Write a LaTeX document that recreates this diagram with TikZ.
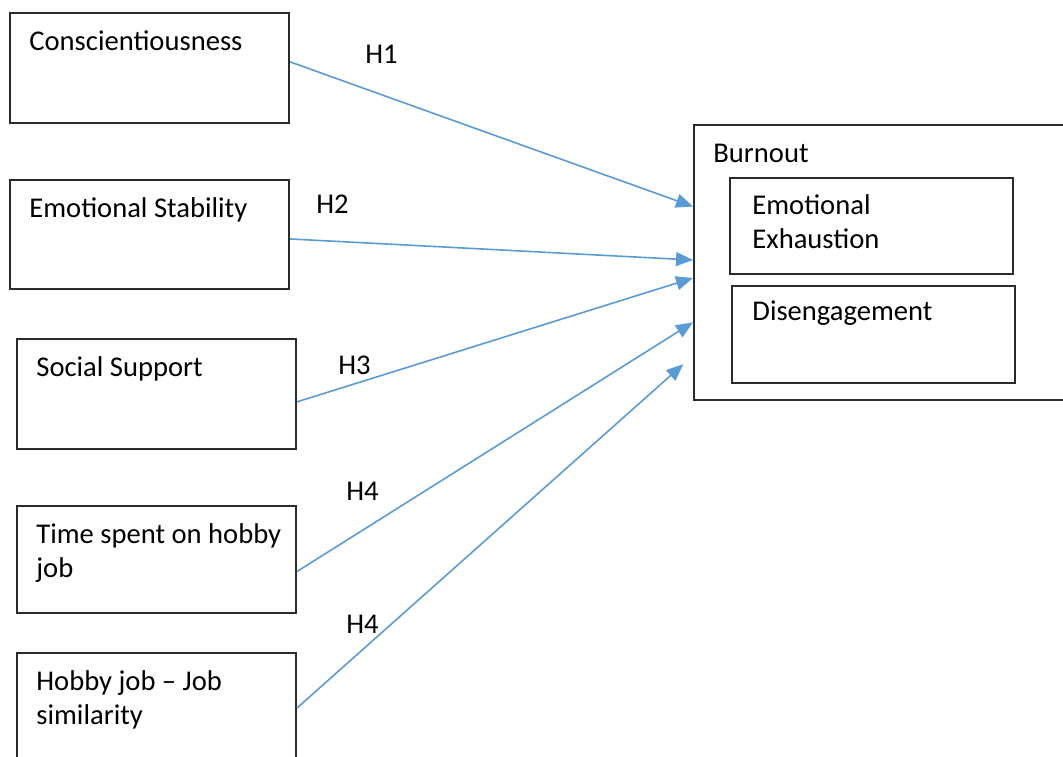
\documentclass[tikz,border=0pt]{standalone}
\usepackage{fontspec}
\setmainfont{Carlito}
\usetikzlibrary{positioning,arrows.meta,fit,calc}
\definecolor{arrowblue}{HTML}{5B9BD5}
\definecolor{boxline}{HTML}{2B2B2B}
\tikzset{
    box/.style={rectangle, draw=boxline, line width=1pt, inner sep=0pt},
    lbl/.style={anchor=base west, inner sep=0pt, align=left, font=\fontsize{14.3}{17}\selectfont},
    hyp/.style={anchor=base west, inner sep=0pt, font=\fontsize{14.3}{17}\selectfont},
    arrow/.style={-{Triangle[length=8.5pt, width=7pt]}, line width=0.8pt, color=arrowblue}
}

\begin{document}
\begin{tikzpicture}[x=0.5pt, y=-0.5pt]
\clip (0,0) rectangle (1063,756);

% Predictors
\node[box, fit={(10,13) (289,123)}] (consc) {};
\node[box, fit={(10,180) (289,289)}] (emostab) {};
\node[box, fit={(17,339) (296,449)}] (social) {};
\node[box, fit={(17,506) (296,613)}] (hobbytime) {};
\node[box, fit={(17,653) (296,763)}] (hobbysim) {};
\node[lbl] (conscTxt) at (29,50) {Conscientiousness};
\node[lbl] (emostabTxt) at (29,217) {Emotional Stability};
\node[lbl] (socialTxt) at (36,376) {Social Support};
\node[lbl] (hobbytimeTxt) at (36,577) {Time spent on hobby\\job};
\node[lbl] (hobbysimTxt) at (36,724) {Hobby job -- Job\\similarity};

% Outcome
\node[box, fit={(694,125) (1070,400)}] (burnout) {};
\node[box, fit={(730,178) (1013,274)}] (exhaust) {};
\node[box, fit={(732,286) (1015,383)}] (diseng) {};
\node[lbl] (burnoutTxt) at (713,162) {Burnout};
\node[lbl] (exhaustTxt) at (752,248) {Emotional\\Exhaustion};
\node[lbl] (disengTxt) at (752,320) {Disengagement};

% Hypotheses
\draw[arrow] ($(consc.north east)!0.445!(consc.south east)$) -- ($(burnout.north west)!0.298!(burnout.south west)$);
\draw[arrow] ($(emostab.north east)!0.54!(emostab.south east)$) -- ($(burnout.north west)!0.491!(burnout.south west)$);
\draw[arrow] ($(social.north east)!0.57!(social.south east)$) -- ($(burnout.north west)!0.556!(burnout.south west)$);
\draw[arrow] ($(hobbytime.north east)!0.61!(hobbytime.south east)$) -- ($(burnout.north west)!0.716!(burnout.south west)$);
\draw[arrow, shorten >=6.5pt] (hobbysim.east) -- ($(burnout.north west)!0.836!(burnout.south west)$);

\node[hyp] (h1) at (365,63) {H1};
\node[hyp] (h2) at (316,213) {H2};
\node[hyp] (h3) at (338,374) {H3};
\node[hyp] (h4a) at (346,500) {H4};
\node[hyp] (h4b) at (346,633) {H4};

\end{tikzpicture}
\end{document}
